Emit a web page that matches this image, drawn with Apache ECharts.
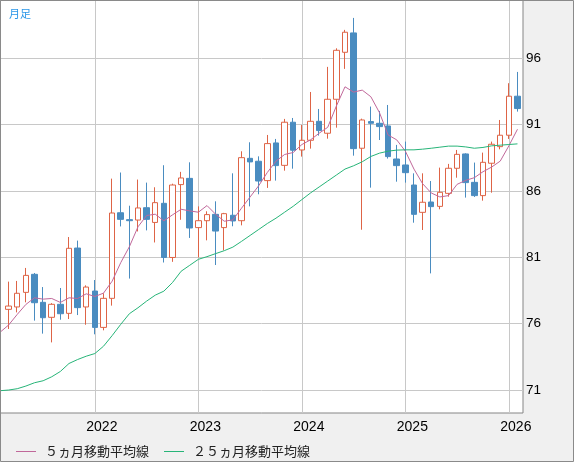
<!DOCTYPE html>
<html>
<head>
<meta charset="utf-8">
<script src="https://cdn.jsdelivr.net/npm/echarts@6/dist/echarts.min.js"></script>
<style>
html,body{margin:0;padding:0;background:#f0f0f0;}
#c{width:574px;height:462px;}
</style>
</head>
<body>
<div id="c"></div>
<script>
// Months (Mar 2021 - Feb 2026)
const months = [
 '2021-03','2021-04','2021-05','2021-06','2021-07','2021-08','2021-09','2021-10','2021-11','2021-12',
 '2022-01','2022-02','2022-03','2022-04','2022-05','2022-06','2022-07','2022-08','2022-09','2022-10','2022-11','2022-12',
 '2023-01','2023-02','2023-03','2023-04','2023-05','2023-06','2023-07','2023-08','2023-09','2023-10','2023-11','2023-12',
 '2024-01','2024-02','2024-03','2024-04','2024-05','2024-06','2024-07','2024-08','2024-09','2024-10','2024-11','2024-12',
 '2025-01','2025-02','2025-03','2025-04','2025-05','2025-06','2025-07','2025-08','2025-09','2025-10','2025-11','2025-12',
 '2026-01','2026-02'
];
const openV = [77.08,77.26,78.36,79.72,77.61,76.48,77.46,76.78,81.70,77.26,
 78.46,75.72,77.91,84.36,83.84,83.81,84.74,83.63,85.07,80.99,86.48,86.95,
 83.24,83.76,84.24,83.24,84.17,83.76,88.46,88.24,86.78,89.62,87.93,91.18,
 89.09,89.82,91.25,90.35,92.91,96.45,97.91,89.22,91.23,91.10,90.90,88.41,
 87.96,86.45,84.39,85.17,84.84,85.82,87.71,88.79,86.65,85.65,88.09,89.34,
 90.20,93.14];
const closeV = [77.33,78.29,79.64,77.58,76.45,77.46,76.75,81.68,77.21,78.76,
 75.72,77.91,84.34,83.86,83.76,84.72,83.86,85.12,80.99,86.45,86.98,83.21,
 83.76,84.22,82.98,84.29,83.74,88.51,88.19,86.75,89.57,87.91,91.18,89.07,
 89.82,91.25,90.55,92.91,96.60,97.96,89.19,91.35,91.10,90.85,88.59,87.91,
 87.38,84.24,85.15,84.82,85.90,87.71,88.76,86.63,85.65,88.16,89.52,90.20,
 93.14,92.21];
const lowV = [75.60,76.85,77.61,76.23,75.25,74.59,76.30,76.35,76.65,75.92,
 75.20,75.50,77.36,83.33,79.40,82.95,83.03,82.12,80.61,80.66,83.83,82.46,
 81.00,82.28,80.42,81.53,83.34,83.41,84.84,85.75,86.23,86.78,87.53,87.68,
 88.59,89.19,90.17,89.94,90.77,95.20,88.66,83.08,86.25,89.84,88.44,86.70,
 86.63,83.61,83.06,79.79,84.62,85.57,87.00,85.50,85.55,85.27,85.87,89.14,
 89.92,91.98];
const highV = [79.17,79.22,80.20,79.82,78.76,77.55,78.69,82.53,82.26,78.89,
 79.29,78.29,86.93,87.39,84.89,86.86,86.63,86.28,87.94,86.55,87.44,88.16,
 84.84,84.47,85.22,84.35,87.33,88.99,89.67,88.61,90.22,89.92,91.43,91.50,
 90.97,93.46,92.18,95.35,96.75,98.14,99.04,91.45,92.36,92.03,92.48,89.47,
 89.72,87.33,87.33,86.75,87.76,88.04,89.09,88.84,88.14,88.89,89.72,91.35,
 94.12,94.97];
// Moving averages, Feb 2021 - Feb 2026 (first point sits at the left edge)
const ma5 = [75.35,75.9,76.7,77.45,77.95,77.85,77.9,77.6,77.95,77.9,78.25,
 78.05,78.3,79.2,80.6,81.8,83.3,84.15,84.25,83.75,84.2,84.62,84.5,
 84.4,84.9,84.25,83.72,83.82,84.7,85.55,86.4,87.4,88.25,88.75,88.9,
 89.5,89.85,90.35,90.8,92.4,93.85,93.45,93.6,93.1,91.9,90.22,89.85,
 89.0,87.65,86.55,85.85,85.55,85.65,86.5,86.8,87.0,87.45,87.8,88.25,
 89.4,90.65];
const ma25 = [70.95,71.0,71.1,71.3,71.55,71.7,72.0,72.4,73.0,73.3,73.55,
 73.75,74.3,75.1,75.95,76.75,77.2,77.7,78.15,78.45,79.1,79.95,80.4,
 80.85,81.05,81.28,81.5,81.77,82.2,82.65,83.1,83.55,83.95,84.4,84.85,
 85.35,85.85,86.3,86.75,87.2,87.65,87.9,88.2,88.6,88.85,89.0,89.08,
 89.1,89.1,89.15,89.22,89.3,89.38,89.38,89.32,89.22,89.28,89.4,89.45,
 89.5,89.55];
const yearTickIdx = [10,22,34,46,58];
const yearLabels = ['2022','2023','2024','2025','2026'];
const yTicks = [71,76,81,86,91,96];
const ma5Name = '５ヵ月移動平均線';
const ma25Name = '２５ヵ月移動平均線';

const candleData = months.map((m,i)=>[i, openV[i], closeV[i], lowV[i], highV[i]]);
const ma5Data = ma5.map((v,i)=>[i-1, v]);
const ma25Data = ma25.map((v,i)=>[i-1, v]);

const chart = echarts.init(document.getElementById('c'));
chart.setOption({
  backgroundColor:'#f0f0f0',
  animation:false,
  title:{text:'月足', left:4, top:3, textStyle:{fontSize:11, fontWeight:'normal', color:'#2a96e8', fontFamily:'Noto Sans CJK JP'}},
  legend:{
    data:[ma5Name, ma25Name], left:16, top:445, padding:0, itemGap:15,
    itemWidth:20, itemHeight:1, icon:'rect',
    textStyle:{fontSize:13, color:'#222', fontFamily:'Noto Sans CJK JP', padding:[0,0,0,4]}
  },
  grid:{left:0, top:0, width:523, height:413, show:true, backgroundColor:'#fff', borderColor:'#858585', borderWidth:1},
  xAxis:{
    type:'value', min:-1.0, max:59.64,
    axisLine:{show:false},
    axisTick:{show:false, customValues:yearTickIdx},
    splitLine:{show:true, lineStyle:{color:'#c8c8c8', width:1}},
    axisLabel:{customValues:yearTickIdx, margin:7, fontSize:14, color:'#000', fontFamily:'Liberation Sans',
      padding:[0,0,0,14],
      formatter:(v)=>{const k=yearTickIdx.indexOf(v); return k>=0?yearLabels[k]:'';}}
  },
  yAxis:{
    type:'value', position:'right', min:69.27, max:100.39,
    axisLine:{show:false},
    axisTick:{show:false, customValues:yTicks},
    splitLine:{show:true, lineStyle:{color:'#c8c8c8', width:1}},
    axisLabel:{customValues:yTicks, margin:3, fontSize:13.5, color:'#000', fontFamily:'Liberation Sans'}
  },
  series:[
    {type:'candlestick', name:'月足', data:candleData, barWidth:6,
      itemStyle:{color:'#ffffff', color0:'#4a8cc0', borderColor:'#de6446', borderColor0:'#4a8cc0', borderWidth:1}},
    {type:'line', name:ma5Name, data:ma5Data, showSymbol:false, symbol:'none',
      lineStyle:{color:'#c0689a', width:1}, itemStyle:{color:'#c0689a'}},
    {type:'line', name:ma25Name, data:ma25Data, showSymbol:false, symbol:'none',
      lineStyle:{color:'#27b478', width:1}, itemStyle:{color:'#27b478'}}
  ],
  graphic:[{type:'rect', shape:{x:0.5,y:0.5,width:573,height:461}, style:{fill:'none', stroke:'#8a8a8a', lineWidth:1}, z:100, silent:true}]
});
</script>
</body>
</html>
